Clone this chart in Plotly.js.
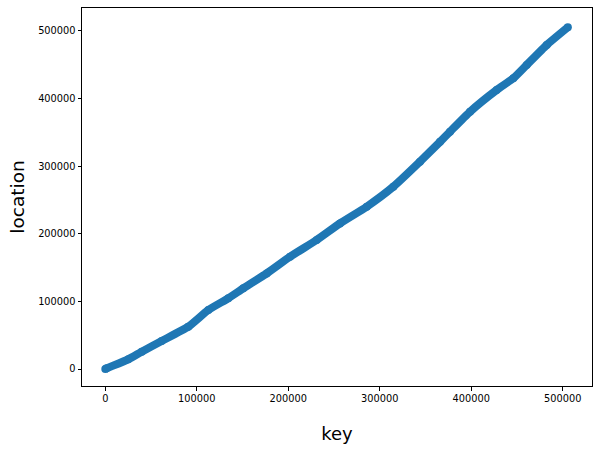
<!DOCTYPE html>
<html>
<head>
<meta charset="utf-8">
<script src="https://cdn.plot.ly/plotly-3.0.1.min.js"></script>
<style>html,body{margin:0;padding:0;background:#fff;}#chart{width:616px;height:451px;}</style>
</head>
<body>
<div id="chart"></div>
<script>
const keys = [0, 1500, 25100, 39800, 61600, 90700, 112600, 134400, 150800, 176400, 201900, 231000, 256500, 285700, 314800, 343900, 365800, 376700, 398600, 427700, 445900, 460500, 482400, 505500];
const locations = [0, 1000, 14300, 25600, 41400, 62600, 87300, 104600, 119300, 141400, 166100, 190800, 215400, 240100, 269700, 306700, 336000, 351000, 380600, 412700, 430000, 449700, 479300, 505500];
const xTicks = [0, 100000, 200000, 300000, 400000, 500000];
const yTicks = [0, 100000, 200000, 300000, 400000, 500000];

const trace = {
  x: keys, y: locations, type: 'scatter', mode: 'lines+markers',
  line: {color: '#1f77b4', width: 8, shape: 'spline', smoothing: 0.5},
  marker: {color: '#1f77b4', size: 8},
  hoverinfo: 'none'
};
const axisCommon = {
  showgrid: false, zeroline: false, showline: true, mirror: true,
  linecolor: '#000', linewidth: 1, ticks: 'outside', ticklen: 3.5, tickwidth: 1, tickcolor: '#000',
  tickfont: {family: 'DejaVu Sans', size: 9.8, color: '#000'}
};
const layout = {
  width: 616, height: 451,
  margin: {l: 82, r: 24, t: 8, b: 65},
  paper_bgcolor: '#fff', plot_bgcolor: '#fff',
  showlegend: false,
  xaxis: Object.assign({}, axisCommon, {
    range: [-25460, 531900], tickvals: xTicks, ticktext: xTicks.map(String),
    title: {text: 'key', font: {family: 'DejaVu Sans', size: 18, color: '#000'}, standoff: 24}
  }),
  yaxis: Object.assign({}, axisCommon, {
    range: [-25150, 534000], tickvals: yTicks, ticktext: yTicks.map(String),
    title: {text: 'location', font: {family: 'DejaVu Sans', size: 18.5, color: '#000'}, standoff: 8}
  })
};
Plotly.newPlot('chart', [trace], layout, {staticPlot: true, displayModeBar: false});
</script>
</body>
</html>
